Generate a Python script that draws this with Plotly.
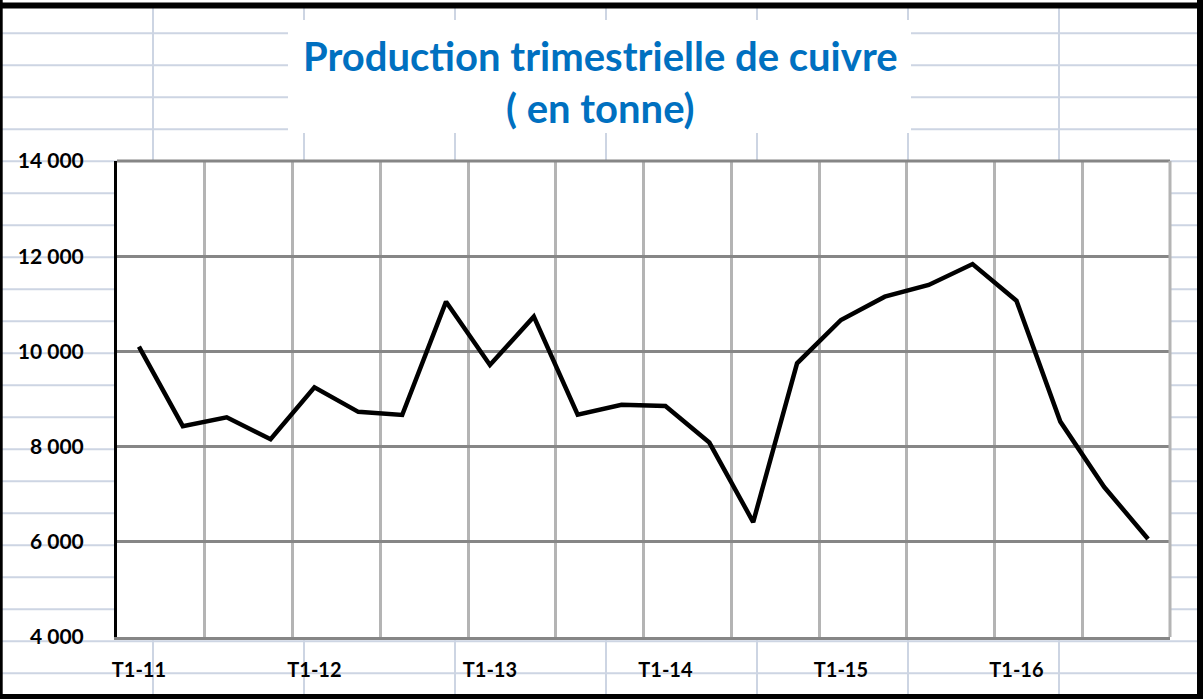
import plotly.graph_objects as go

quarters = [
    "T1-11", "T2-11", "T3-11", "T4-11",
    "T1-12", "T2-12", "T3-12", "T4-12",
    "T1-13", "T2-13", "T3-13", "T4-13",
    "T1-14", "T2-14", "T3-14", "T4-14",
    "T1-15", "T2-15", "T3-15", "T4-15",
    "T1-16", "T2-16", "T3-16", "T4-16",
]
production = [
    10100, 8430, 8615, 8155,
    9245, 8730, 8665, 11045,
    9715, 10730, 8670, 8880,
    8855, 8085, 6415, 9750,
    10660, 11150, 11395, 11835,
    11065, 8525, 7150, 6060,
]
label_quarters = [q for q in quarters if q.startswith("T1")]

W, H = 1203, 699
L, R, T, B = 117, 1170, 161, 637


def px(x):
    return (x - L) / (R - L)


def py(y):
    return (B - y) / (B - T)


xs = list(range(len(quarters)))

fig = go.Figure()
fig.add_trace(go.Scatter(
    x=xs, y=production, mode="lines",
    line=dict(color="black", width=4.5),
    hoverinfo="x+y", showlegend=False,
))

shapes = []
sheet = "#cdd5e3"
# spreadsheet cells behind the chart
for k in range(21):
    yy = 33.3 + 32 * k
    shapes.append(dict(type="line", xref="paper", yref="paper", layer="below",
                       x0=px(0), x1=px(1197), y0=py(yy), y1=py(yy),
                       line=dict(color=sheet, width=2)))
for k in range(7):
    xx = 153 + 151 * k
    shapes.append(dict(type="line", xref="paper", yref="paper", layer="below",
                       x0=px(xx), x1=px(xx), y0=py(8), y1=py(694),
                       line=dict(color=sheet, width=2)))
# white title box and plot area
shapes.append(dict(type="rect", xref="paper", yref="paper", layer="below",
                   x0=px(288), x1=px(911), y0=py(20), y1=py(133),
                   fillcolor="white", line=dict(width=0)))
shapes.append(dict(type="rect", xref="paper", yref="paper", layer="below",
                   x0=0, x1=1, y0=0, y1=1,
                   fillcolor="white", line=dict(width=0)))
# plot area border (top / right)
shapes.append(dict(type="line", xref="paper", yref="paper", layer="above",
                   x0=0, x1=1, y0=1, y1=1, line=dict(color="#868686", width=3)))
shapes.append(dict(type="line", xref="paper", yref="paper", layer="above",
                   x0=1, x1=1, y0=0, y1=1, line=dict(color="#b4b4b4", width=3)))
# outer frame
shapes.append(dict(type="line", xref="paper", yref="paper", layer="above",
                   x0=px(0), x1=px(1203), y0=py(5.5), y1=py(5.5),
                   line=dict(color="black", width=6)))
shapes.append(dict(type="line", xref="paper", yref="paper", layer="above",
                   x0=px(0), x1=px(1203), y0=py(696.5), y1=py(696.5),
                   line=dict(color="black", width=5)))
shapes.append(dict(type="line", xref="paper", yref="paper", layer="above",
                   x0=px(1.2), x1=px(1.2), y0=py(0), y1=py(699),
                   line=dict(color="black", width=3)))
shapes.append(dict(type="line", xref="paper", yref="paper", layer="above",
                   x0=px(1200), x1=px(1200), y0=py(0), y1=py(699),
                   line=dict(color="black", width=6)))

font = "Lato, 'Open Sans', sans-serif"

fig.update_layout(
    width=W, height=H,
    margin=dict(l=L, r=W - R, t=T, b=H - B),
    paper_bgcolor="white",
    plot_bgcolor="white",
    separators=", ",
    shapes=shapes,
    annotations=[dict(
        text="Production trimestrielle de cuivre<br>( en tonne)",
        xref="paper", yref="paper", x=px(600), y=py(82),
        xanchor="center", yanchor="middle", showarrow=False,
        font=dict(family=font, size=40, color="#0070c0", weight="bold"),
    )],
)
fig.update_yaxes(
    range=[4000, 14000], dtick=2000, tickformat=",d",
    showgrid=True, gridcolor="#868686", gridwidth=3,
    showline=True, linecolor="black", linewidth=3,
    zeroline=False, ticks="", ticklabelstandoff=26,
    tickfont=dict(family=font, size=21, color="black", weight="bold"),
)
fig.update_xaxes(
    range=[-0.5, len(quarters) - 0.5],
    tickvals=[quarters.index(q) for q in label_quarters], ticktext=label_quarters,
    showgrid=False, zeroline=False,
    showline=True, linecolor="#868686", linewidth=3,
    ticks="", ticklabelstandoff=13,
    tickfont=dict(family=font, size=20, color="black", weight="bold"),
    minor=dict(tickmode="linear", tick0=-0.5, dtick=2, showgrid=True,
               gridcolor="#b4b4b4", gridwidth=2.5, ticks=""),
)

fig.write_html("out.html", config={"displayModeBar": False},
               post_script="document.body.style.margin='0';")
